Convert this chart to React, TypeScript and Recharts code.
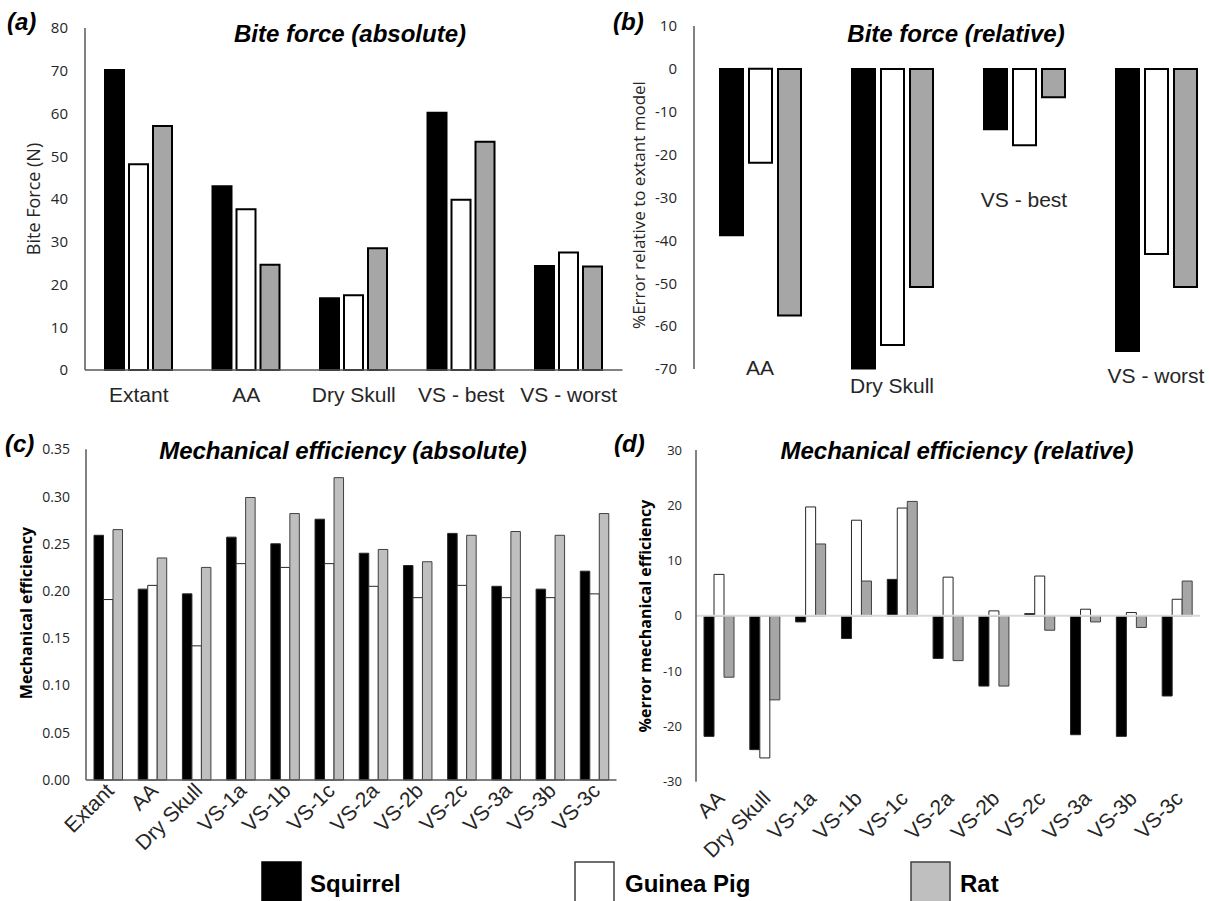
import { BarChart, Bar, XAxis, YAxis, ReferenceLine } from 'recharts';

// (a) bite force, absolute (N)
const biteCategories = ['Extant', 'AA', 'Dry Skull', 'VS - best', 'VS - worst'];
const biteSquirrel = [70.2, 43.0, 16.8, 60.2, 24.3];
const biteGuineaPig = [48.1, 37.6, 17.5, 39.8, 27.5];
const biteRat = [57.1, 24.6, 28.5, 53.4, 24.2];
const biteTicks = [0, 10, 20, 30, 40, 50, 60, 70, 80];

// (b) bite force, % error relative to extant
const relCategories = ['AA', 'Dry Skull', 'VS - best', 'VS - worst'];
const relSquirrel = [-38.8, -69.9, -14.1, -65.8];
const relGuineaPig = [-21.9, -64.4, -17.8, -43.2];
const relRat = [-57.5, -50.9, -6.6, -50.9];
const relTicks = [-70, -60, -50, -40, -30, -20, -10, 0, 10];

// (c) mechanical efficiency, absolute
const meCategories = ['Extant', 'AA', 'Dry Skull', 'VS-1a', 'VS-1b', 'VS-1c', 'VS-2a', 'VS-2b', 'VS-2c', 'VS-3a', 'VS-3b', 'VS-3c'];
const meSquirrel = [0.259, 0.202, 0.197, 0.257, 0.25, 0.276, 0.24, 0.227, 0.261, 0.205, 0.202, 0.221];
const meGuineaPig = [0.191, 0.206, 0.142, 0.229, 0.225, 0.229, 0.205, 0.193, 0.206, 0.193, 0.193, 0.197];
const meRat = [0.265, 0.235, 0.225, 0.299, 0.282, 0.32, 0.244, 0.231, 0.259, 0.263, 0.259, 0.282];
const meTicks = [0, 0.05, 0.1, 0.15, 0.2, 0.25, 0.3, 0.35];

// (d) mechanical efficiency, % error
const merCategories = ['AA', 'Dry Skull', 'VS-1a', 'VS-1b', 'VS-1c', 'VS-2a', 'VS-2b', 'VS-2c', 'VS-3a', 'VS-3b', 'VS-3c'];
const merSquirrel = [-21.8, -24.2, -1.1, -4.1, 6.6, -7.7, -12.7, 0.4, -21.5, -21.8, -14.5];
const merGuineaPig = [7.5, -25.7, 19.7, 17.3, 19.5, 7.0, 0.9, 7.2, 1.2, 0.6, 3.0];
const merRat = [-11.1, -15.2, 13.0, 6.3, 20.7, -8.1, -12.7, -2.6, -1.1, -2.1, 6.3];
const merTicks = [-30, -20, -10, 0, 10, 20, 30];

const species = ['Squirrel', 'Guinea Pig', 'Rat'];

const ARIAL = '"Liberation Sans", Arial, sans-serif';
const CALIBRI = '"Open Sans", "Liberation Sans", sans-serif';
const AXIS = '#595959';
const TXT = '#262626';

// label placement in (b) is hand-placed in the original, shift in px from the axis
const relTickShift: Record<string, number> = {
  AA: -1.5,
  'Dry Skull': 16,
  'VS - best': -169.5,
  'VS - worst': 6,
};

const toRows = (cats: string[], a: number[], b: number[], c: number[]) =>
  cats.map((name, i) => ({ name, squirrel: a[i], guineaPig: b[i], rat: c[i] }));

const RelTick = ({ x, y, payload }: any) => (
  <text
    x={x}
    y={y + (relTickShift[payload.value] ?? 0)}
    textAnchor="middle"
    dominantBaseline="central"
    fontSize={21}
    fontFamily={ARIAL}
    fill={TXT}
  >
    {payload.value}
  </text>
);

const SlantTick = ({ x, y, payload, dx, dy }: any) => (
  <text
    transform={`translate(${x + dx},${y + dy}) rotate(-45)`}
    textAnchor="end"
    fontSize={21}
    fontFamily={ARIAL}
    fill={TXT}
  >
    {payload.value}
  </text>
);

const Panel = ({ left, top, children }: { left: number; top: number; children: any }) => (
  <div style={{ position: 'absolute', left, top }}>{children}</div>
);

export default function App() {
  const bite = toRows(biteCategories, biteSquirrel, biteGuineaPig, biteRat);
  const rel = toRows(relCategories, relSquirrel, relGuineaPig, relRat);
  const me = toRows(meCategories, meSquirrel, meGuineaPig, meRat);
  const mer = toRows(merCategories, merSquirrel, merGuineaPig, merRat);

  const legendBoxes = [
    { left: 262, text: 310, fill: '#000', stroke: '#000' },
    { left: 575, text: 625, fill: '#fff', stroke: '#404040' },
    { left: 911, text: 960, fill: '#bfbfbf', stroke: '#404040' },
  ];

  return (
    <div
      style={{
        position: 'absolute',
        left: 0,
        top: 0,
        width: 1210,
        height: 901,
        overflow: 'hidden',
        background: '#fff',
      }}
    >
      {/* (a) */}
      <Panel left={0} top={0}>
        <BarChart
          width={640}
          height={420}
          data={bite}
          margin={{ top: 28, right: 17.5, left: 25, bottom: 0 }}
          barGap={5}
          barSize={19}
        >
          <XAxis
            dataKey="name"
            interval={0}
            height={50}
            tickSize={0}
            tickMargin={17}
            axisLine={{ stroke: AXIS, strokeWidth: 1.5 }}
            tick={{ fontSize: 21, fontFamily: ARIAL, fill: TXT }}
          />
          <YAxis
            domain={[0, 80]}
            ticks={biteTicks}
            width={60}
            tickSize={0}
            tickMargin={17}
            axisLine={{ stroke: AXIS, strokeWidth: 1.5 }}
            tick={{ fontSize: 15, fontFamily: CALIBRI, fill: TXT }}
          />
          <Bar dataKey="squirrel" name={species[0]} fill="#000" stroke="#000" strokeWidth={2} isAnimationActive={false} />
          <Bar dataKey="guineaPig" name={species[1]} fill="#fff" stroke="#000" strokeWidth={2} isAnimationActive={false} />
          <Bar dataKey="rat" name={species[2]} fill="#a6a6a6" stroke="#000" strokeWidth={2} isAnimationActive={false} />
        </BarChart>
      </Panel>

      {/* (b) */}
      <Panel left={600} top={0}>
        <BarChart
          width={630}
          height={420}
          data={rel}
          margin={{ top: 26, right: 8, left: 34, bottom: 0 }}
          barGap={6}
          barSize={23}
        >
          <XAxis
            dataKey="name"
            interval={0}
            height={51}
            tickSize={0}
            tickMargin={0}
            axisLine={false}
            tick={(p: any) => <RelTick {...p} />}
          />
          <YAxis
            domain={[-70, 10]}
            ticks={relTicks}
            width={60}
            tickSize={0}
            tickMargin={17}
            axisLine={{ stroke: AXIS, strokeWidth: 1.5 }}
            tick={{ fontSize: 15, fontFamily: CALIBRI, fill: TXT }}
          />
          <Bar dataKey="squirrel" name={species[0]} fill="#000" stroke="#000" strokeWidth={2} isAnimationActive={false} />
          <Bar dataKey="guineaPig" name={species[1]} fill="#fff" stroke="#000" strokeWidth={2} isAnimationActive={false} />
          <Bar dataKey="rat" name={species[2]} fill="#a6a6a6" stroke="#000" strokeWidth={2} isAnimationActive={false} />
        </BarChart>
      </Panel>

      {/* (c) */}
      <Panel left={0} top={440}>
        <BarChart
          width={630}
          height={461}
          data={me}
          margin={{ top: 9.3, right: 13.5, left: 26, bottom: 0 }}
          barGap={0}
          barSize={9.5}
        >
          <XAxis
            dataKey="name"
            interval={0}
            height={121}
            tickSize={0}
            tickMargin={0}
            axisLine={{ stroke: AXIS, strokeWidth: 1.5 }}
            tick={(p: any) => <SlantTick {...p} dx={7} dy={12} />}
          />
          <YAxis
            domain={[0, 0.35]}
            ticks={meTicks}
            width={60}
            tickSize={0}
            tickMargin={16}
            axisLine={{ stroke: AXIS, strokeWidth: 1.5 }}
            tickFormatter={(v: number) => v.toFixed(2)}
            tick={{ fontSize: 14, fontFamily: CALIBRI, fill: TXT }}
          />
          <Bar dataKey="squirrel" name={species[0]} fill="#000" stroke="#262626" strokeWidth={1} isAnimationActive={false} />
          <Bar dataKey="guineaPig" name={species[1]} fill="#fff" stroke="#262626" strokeWidth={1} isAnimationActive={false} />
          <Bar dataKey="rat" name={species[2]} fill="#bfbfbf" stroke="#404040" strokeWidth={1} isAnimationActive={false} />
        </BarChart>
      </Panel>

      {/* (d) */}
      <Panel left={610} top={440}>
        <BarChart
          width={600}
          height={461}
          data={mer}
          margin={{ top: 10, right: 10, left: 26, bottom: 0 }}
          barGap={0}
          barSize={10}
        >
          <XAxis
            dataKey="name"
            interval={0}
            height={119.3}
            tickSize={0}
            tickMargin={0}
            axisLine={false}
            tick={(p: any) => <SlantTick {...p} dx={7} dy={18} />}
          />
          <YAxis
            domain={[-30, 30]}
            ticks={merTicks}
            width={60}
            tickSize={0}
            tickMargin={14}
            axisLine={{ stroke: AXIS, strokeWidth: 1.5 }}
            tick={{ fontSize: 13, fontFamily: CALIBRI, fill: TXT }}
          />
          <ReferenceLine y={0} stroke="#d9d9d9" strokeWidth={2} />
          <Bar dataKey="squirrel" name={species[0]} fill="#000" stroke="#262626" strokeWidth={1} isAnimationActive={false} />
          <Bar dataKey="guineaPig" name={species[1]} fill="#fff" stroke="#262626" strokeWidth={1} isAnimationActive={false} />
          <Bar dataKey="rat" name={species[2]} fill="#a6a6a6" stroke="#404040" strokeWidth={1} isAnimationActive={false} />
        </BarChart>
      </Panel>

      {/* titles, panel letters, axis titles */}
      <svg
        width={1210}
        height={901}
        style={{ position: 'absolute', left: 0, top: 0, pointerEvents: 'none' }}
      >
        <g fontFamily={ARIAL} fontWeight="bold" fontStyle="italic" fill="#000">
          <text x={7} y={30} fontSize={24}>(a)</text>
          <text x={613} y={30} fontSize={24}>(b)</text>
          <text x={5} y={452} fontSize={24}>(c)</text>
          <text x={614} y={452} fontSize={24}>(d)</text>
          <text x={350} y={42} fontSize={24} textAnchor="middle">Bite force (absolute)</text>
          <text x={956} y={42} fontSize={24} textAnchor="middle">Bite force (relative)</text>
          <text x={343} y={459} fontSize={24} textAnchor="middle">Mechanical efficiency (absolute)</text>
          <text x={957} y={459} fontSize={24} textAnchor="middle">Mechanical efficiency (relative)</text>
        </g>
        <g fontFamily={CALIBRI} fill={TXT} textAnchor="middle" dominantBaseline="central">
          <text transform="translate(33,199) rotate(-90)" fontSize={18}>Bite Force (N)</text>
          <text transform="translate(638,205) rotate(-90)" fontSize={17}>%Error relative to extant model</text>
          <text transform="translate(26,613) rotate(-90)" fontSize={16} fontWeight="bold" fill="#000">Mechanical efficiency</text>
          <text transform="translate(645,616) rotate(-90)" fontSize={16} fontWeight="bold" fill="#000">%error mechanical efficiency</text>
        </g>
        {legendBoxes.map((b, i) => (
          <g key={species[i]}>
            <rect x={b.left} y={862} width={39} height={40} fill={b.fill} stroke={b.stroke} strokeWidth={1.5} />
            <text x={b.text} y={883} dominantBaseline="central" fontFamily={ARIAL} fontWeight="bold" fontSize={24} fill="#000">
              {species[i]}
            </text>
          </g>
        ))}
      </svg>
    </div>
  );
}
